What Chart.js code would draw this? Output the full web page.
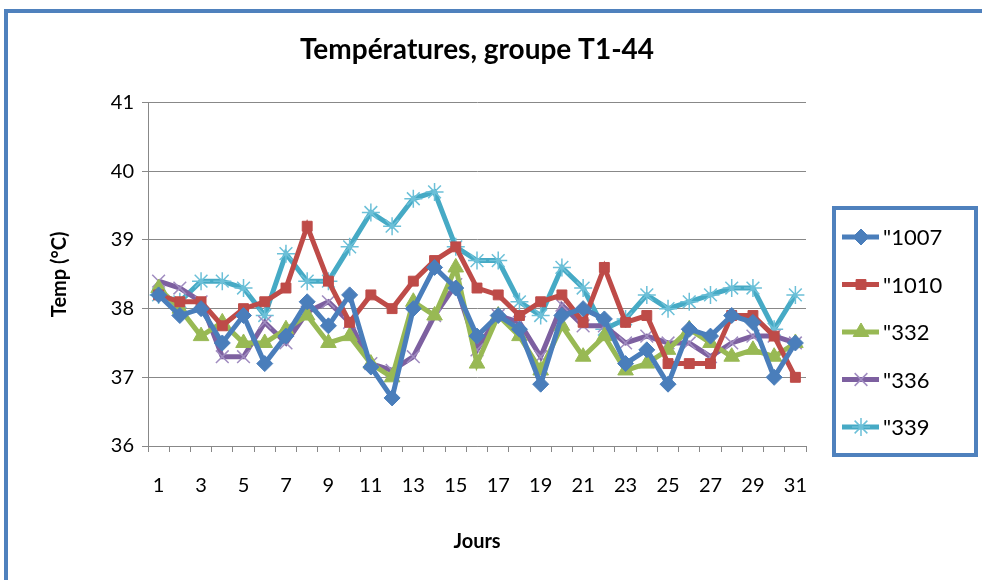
<!DOCTYPE html>
<html lang="fr">
<head>
    <meta charset="UTF-8">
    <title>Températures, groupe T1-44</title>
    <script src="https://cdn.jsdelivr.net/npm/chart.js"></script>
    <style>
        html, body {
            margin: 0;
            padding: 0;
            background: #fff;
        }
        .chart-box {
            position: relative;
            width: 982px;
            height: 580px;
        }
    </style>
</head>
<body>
    <div class="chart-box">
        <canvas id="tempChart" width="982" height="580"></canvas>
    </div>

    <script>
        // Jours du mois
        const days = ['1', '2', '3', '4', '5', '6', '7', '8', '9', '10', '11', '12', '13', '14', '15', '16',
                      '17', '18', '19', '20', '21', '22', '23', '24', '25', '26', '27', '28', '29', '30', '31'];

        // Températures relevées (°C)
        const t1007 = [38.2, 37.9, 38.0, 37.5, 37.9, 37.2, 37.6, 38.1, 37.75, 38.2, 37.15, 36.7, 38.0, 38.6, 38.3, 37.6,
                       37.9, 37.7, 36.9, 37.9, 38.0, 37.85, 37.2, 37.4, 36.9, 37.7, 37.6, 37.9, 37.8, 37.0, 37.5];
        const t1010 = [38.2, 38.1, 38.1, 37.75, 38.0, 38.1, 38.3, 39.2, 38.4, 37.8, 38.2, 38.0, 38.4, 38.7, 38.9, 38.3,
                       38.2, 37.9, 38.1, 38.2, 37.8, 38.6, 37.8, 37.9, 37.2, 37.2, 37.2, 37.9, 37.9, 37.6, 37.0];
        const t332  = [38.3, 38.0, 37.6, 37.8, 37.5, 37.5, 37.7, 37.9, 37.5, 37.6, 37.2, 37.0, 38.1, 37.9, 38.6, 37.2,
                       37.9, 37.6, 37.1, 37.75, 37.3, 37.6, 37.1, 37.2, 37.4, 37.7, 37.5, 37.3, 37.4, 37.3, 37.5];
        const t336  = [38.4, 38.3, 38.1, 37.3, 37.3, 37.8, 37.5, 37.95, 38.1, 37.8, 37.2, 37.1, 37.3, 37.9, 38.35, 37.4,
                       37.9, 37.8, 37.3, 38.05, 37.75, 37.75, 37.5, 37.6, 37.5, 37.5, 37.3, 37.5, 37.6, 37.6, 37.5];
        const t339  = [38.2, 38.1, 38.4, 38.4, 38.3, 37.9, 38.8, 38.4, 38.4, 38.9, 39.4, 39.2, 39.6, 39.7, 38.9, 38.7,
                       38.7, 38.1, 37.9, 38.6, 38.3, 37.7, 37.85, 38.2, 38.0, 38.1, 38.2, 38.3, 38.3, 37.7, 38.2];

        const yTicks = [36, 37, 38, 39, 40, 41];

        const FONT = "Lato, 'Open Sans', sans-serif";
        const FRAME_BLUE = '#4f81bd';
        const GRID_GREY = '#888888';

        // cadre bleu + légende encadrée, comme dans Excel
        const excelLook = {
            id: 'excelLook',
            beforeDraw(chart) {
                const ctx = chart.ctx;
                ctx.save();
                ctx.fillStyle = '#fff';
                ctx.fillRect(0, 0, chart.width, chart.height);
                ctx.strokeStyle = FRAME_BLUE;
                ctx.lineWidth = 4;
                ctx.beginPath();
                ctx.moveTo(6, chart.height);
                ctx.lineTo(6, 11);
                ctx.lineTo(chart.width, 11);
                ctx.stroke();
                ctx.restore();
            },
            afterDraw(chart) {
                const ctx = chart.ctx;
                ctx.save();
                ctx.strokeStyle = FRAME_BLUE;
                ctx.lineWidth = 4;
                ctx.strokeRect(834, 208, 142, 247);

                ctx.font = '22px ' + FONT;
                ctx.textBaseline = 'middle';
                ctx.textAlign = 'left';
                chart.data.datasets.forEach((ds, i) => {
                    const y = 237 + i * 47.5;
                    ctx.strokeStyle = ds.borderColor;
                    ctx.lineWidth = 5;
                    ctx.beginPath();
                    ctx.moveTo(842, y);
                    ctx.lineTo(879, y);
                    ctx.stroke();
                    ctx.fillStyle = ds.pointBackgroundColor;
                    ctx.strokeStyle = ds.pointBorderColor;
                    ctx.lineWidth = ds.pointBorderWidth;
                    Chart.helpers.drawPoint(ctx, {
                        pointStyle: ds.pointStyle,
                        radius: ds.pointRadius,
                        rotation: 0,
                        borderWidth: ds.pointBorderWidth
                    }, 861, y);
                    ctx.fillStyle = '#000';
                    ctx.fillText(ds.label, 883, y + 1);
                });
                ctx.restore();
            }
        };

        function series(label, data, color, style, radius, markColor, markWidth) {
            return {
                label: label,
                data: data,
                borderColor: color,
                backgroundColor: color,
                borderWidth: 5,
                pointStyle: style,
                pointRadius: radius,
                pointBackgroundColor: color,
                pointBorderColor: markColor || color,
                pointBorderWidth: markWidth || 1,
                tension: 0
            };
        }

        new Chart(document.getElementById('tempChart'), {
            type: 'line',
            data: {
                labels: days,
                datasets: [
                    series('"1007', t1007, '#4a7ebb', 'rectRot', 8),
                    series('"1010', t1010, '#be4b48', 'rect', 7),
                    series('"332', t332, '#98b954', 'triangle', 9),
                    series('"336', t336, '#7d60a0', 'crossRot', 9, '#a08cc0', 1.5),
                    series('"339', t339, '#46aac5', 'star', 9, '#6cc0d8', 1.5)
                ]
            },
            options: {
                responsive: false,
                animation: false,
                layout: {
                    padding: { left: 0, right: 176, top: 0, bottom: 0 }
                },
                scales: {
                    x: {
                        type: 'category',
                        offset: true,
                        afterFit: function(scale) { scale.height = 134; },
                        grid: {
                            offset: true,
                            drawOnChartArea: false,
                            tickLength: 6,
                            color: GRID_GREY
                        },
                        border: { color: GRID_GREY },
                        ticks: {
                            autoSkip: false,
                            maxRotation: 0,
                            padding: 22,
                            color: '#000',
                            font: { family: FONT, size: 20 },
                            callback: function(value, index) {
                                return index % 2 === 0 ? days[index] : '';
                            }
                        },
                        title: {
                            display: true,
                            text: 'Jours',
                            color: '#000',
                            font: { family: FONT, size: 20, weight: 'bold' },
                            padding: { top: 0, bottom: 26 }
                        }
                    },
                    y: {
                        min: yTicks[0],
                        max: yTicks[yTicks.length - 1],
                        afterFit: function(scale) { scale.width = 148; },
                        afterBuildTicks: function(scale) {
                            scale.ticks = yTicks.map(v => ({ value: v }));
                        },
                        grid: {
                            tickLength: 6,
                            color: GRID_GREY
                        },
                        border: { color: GRID_GREY },
                        ticks: {
                            padding: 8,
                            color: '#000',
                            font: { family: FONT, size: 20 }
                        },
                        title: {
                            display: true,
                            text: 'Temp (°C)',
                            color: '#000',
                            font: { family: FONT, size: 20, weight: 'bold' },
                            padding: { top: 48, bottom: 0 }
                        }
                    }
                },
                plugins: {
                    legend: { display: false },
                    tooltip: { enabled: false },
                    title: {
                        display: true,
                        fullSize: false,
                        text: 'Températures, groupe T1-44',
                        color: '#000',
                        font: { family: FONT, size: 28, weight: 'bold' },
                        padding: { top: 33, bottom: 36 }
                    }
                }
            },
            plugins: [excelLook]
        });
    </script>
</body>
</html>
